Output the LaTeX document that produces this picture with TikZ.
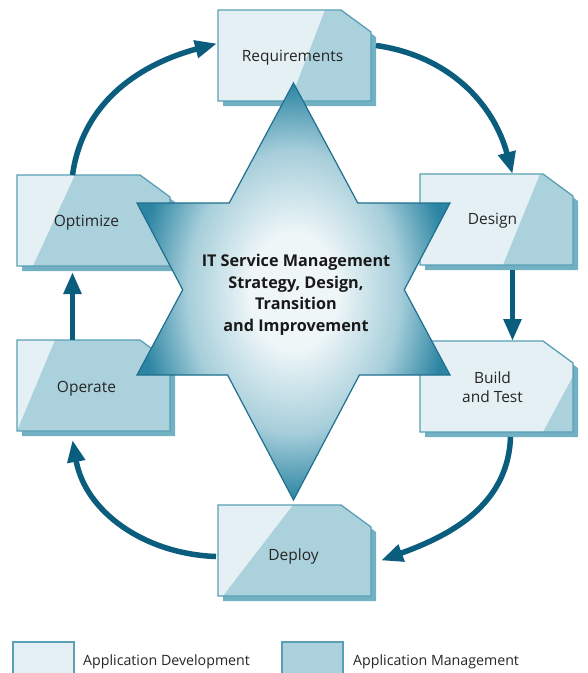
\documentclass[tikz,border=0pt]{standalone}
\usepackage{fontspec}
\setmainfont{Open Sans}
\usetikzlibrary{arrows.meta,calc}
\definecolor{lightf}{HTML}{E4F0F4}
\definecolor{darkf}{HTML}{ABD1DC}
\definecolor{edgec}{HTML}{5A9FB6}
\definecolor{shadc}{HTML}{72B0C4}
\definecolor{arrc}{HTML}{0B5D7E}
\definecolor{starin}{HTML}{EEF6F8}
\definecolor{starmid}{HTML}{A6CEDA}
\definecolor{starout}{HTML}{2A84A2}
\definecolor{staredge}{HTML}{1F6F8E}
\definecolor{txtc}{HTML}{262626}
\pgfdeclareradialshading{starshade}{\pgfpoint{0bp}{0bp}}{color(0bp)=(starin); color(7bp)=(starin); color(17bp)=(starmid); color(25bp)=(starout); color(50bp)=(starout)}
\newcommand\appbox[6]{%
  \node[boxshape] (#1) at #2 {};
  \fill[shadc] ([shift={(5pt,-5pt)}]#1.north west) -- ([shift={(-25pt,-5pt)}]#1.north east) -- ([shift={(5pt,-27pt)}]#1.north east) -- ([shift={(5pt,-5pt)}]#1.south east) -- ([shift={(5pt,-5pt)}]#1.south west) -- cycle;
  \begin{scope}
    \clip (#1.north west) -- ([xshift=-30pt]#1.north east) -- ([yshift=-22pt]#1.north east) -- (#1.south east) -- (#1.south west) -- cycle;
    \fill[lightf] (#1.north west) rectangle (#1.south east);
    \fill[darkf] ([xshift=#4]#1.north west) -- ([xshift=220pt]#1.north west) -- ([xshift=220pt]#1.south west) -- ([xshift=#5]#1.south west) -- cycle;
  \end{scope}
  \draw[edgec,line width=1.3pt,line join=miter] (#1.north west) -- ([xshift=-30pt]#1.north east) -- ([yshift=-22pt]#1.north east) -- (#1.south east) -- (#1.south west) -- cycle;
  \node[boxtext] (#1t) at ([shift={#6}]#1.center) {#3};
}
\begin{document}
\begin{tikzpicture}[x=1pt,y=-1pt,
  boxshape/.style={minimum width=153pt,minimum height=91pt,inner sep=0pt,outer sep=0pt},
  boxtext/.style={text=txtc,font=\fontsize{15.5}{19}\selectfont,align=center,inner sep=0pt},
  flow/.style={draw=arrc,line width=5.5pt,-{Triangle[length=22pt,width=17pt]}},
  legbox/.style={draw=edgec,line width=1.2pt,minimum width=61pt,minimum height=36pt,inner sep=0pt},
  legtext/.style={anchor=west,inner sep=0pt,text=txtc,font=\fontsize{14.2}{16}\selectfont},
  startext/.style={text=black!90,font=\bfseries\fontsize{16.2}{21.5}\selectfont,align=center,inner sep=0pt}]
\clip (0,0) rectangle (588,673);
\fill[white] (0,0) rectangle (588,673);

\appbox{req}{(294.5,55.5)}{Requirements}{107pt}{72pt}{(-2,2)}
\appbox{des}{(496.5,219.5)}{Design}{120pt}{83pt}{(-4,1)}
\appbox{opt}{(93.5,220.5)}{Optimize}{58pt}{16pt}{(-7,2)}
\appbox{ope}{(93.5,385.5)}{Operate}{38pt}{0pt}{(-7,3)}
\appbox{bld}{(496.5,386.5)}{Build\\and Test}{172pt}{123pt}{(-4,1)}
\appbox{dep}{(294.5,550.5)}{Deploy}{75pt}{5pt}{(-1,6)}

\draw[flow] ([xshift=-21pt]opt.north) to[out=82,in=195] ([shift={(-1pt,12pt)}]req.west);
\draw[flow] ([shift={(5pt,10pt)}]req.east) to[out=-8,in=105] ([xshift=16pt]des.north);
\draw[flow] ([shift={(16pt,-5pt)}]des.south) -- ([xshift=16pt]bld.north);
\draw[flow] ([shift={(14pt,-5pt)}]bld.south) to[out=-92,in=20] ([shift={(10pt,-10pt)}]dep.east);
\draw[flow] ([shift={(-2pt,-6pt)}]dep.west) to[out=178,in=-80] ([shift={(-21pt,-9pt)}]ope.south);
\draw[flow] ([xshift=-21pt]ope.north) -- ([shift={(-21pt,-6pt)}]opt.south);

\shadedraw[shading=starshade,draw=staredge,line width=1.2pt,line join=miter]
  (293.5,83) -- (357.8,203) -- (450,203) -- (404.3,289.75) -- (450,375) -- (359.4,375)
  -- (293.5,500) -- (227.6,375) -- (137,375) -- (182.7,289.75) -- (137,203) -- (229.2,203) -- cycle;
\node[startext] (core) at (296,295) {IT Service Management\\Strategy, Design,\\Transition\\and Improvement};

\node[legbox,fill=lightf] (legdev) at (43.5,660) {};
\node[legtext] (legdevt) at (83,662) {Application Development};
\node[legbox,fill=darkf] (legman) at (312.5,660) {};
\node[legtext] (legmant) at (353,662) {Application Management};
\end{tikzpicture}
\end{document}
